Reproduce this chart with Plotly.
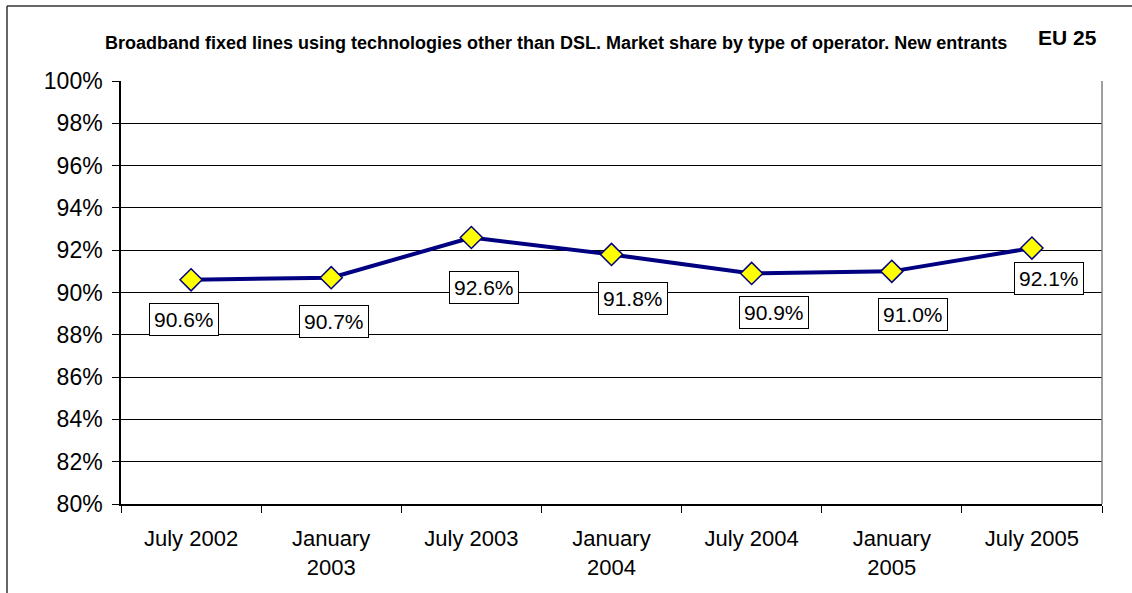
import plotly.graph_objects as go

# ---- data ----
categories = ["July 2002", "January<br>2003", "July 2003", "January<br>2004",
              "July 2004", "January<br>2005", "July 2005"]
new_entrants_share = [90.6, 90.7, 92.6, 91.8, 90.9, 91.0, 92.1]
value_labels = ["90.6%", "90.7%", "92.6%", "91.8%", "90.9%", "91.0%", "92.1%"]
y_ticks = [80, 82, 84, 86, 88, 90, 92, 94, 96, 98, 100]
y_tick_labels = ["80%", "82%", "84%", "86%", "88%", "90%", "92%", "94%", "96%", "98%", "100%"]

title_text = ("Broadband fixed lines using technologies other than DSL. "
              "Market share by type of operator. New entrants")
region_text = "EU 25"

# ---- label styling offsets (pixels) ----
label_xshift = [-7, 3, 13, 21, 22, 21, 17]
label_yshift = [-40, -44, -50, -44, -39, -43, -30]

W, H = 1132, 593
L, R, T, B = 121, 30, 81, 89
pw, ph = W - L - R, H - T - B

def px_x(p):
    return (p - L) / pw

def px_y(p):
    return (H - B - p) / ph

FONT = "Arial, Liberation Sans, sans-serif"

fig = go.Figure()
fig.add_trace(go.Scatter(
    x=categories, y=new_entrants_share, mode="lines+markers",
    line=dict(color="#000080", width=4),
    marker=dict(symbol="diamond", size=17, color="#FFFF00",
                line=dict(color="#000080", width=1.5)),
    hoverinfo="x+y", showlegend=False,
))

annotations = []
for c, v, t, dx, dy in zip(categories, new_entrants_share, value_labels,
                            label_xshift, label_yshift):
    annotations.append(dict(
        x=c, y=v, text=t, showarrow=False, xshift=dx, yshift=dy,
        font=dict(family=FONT, size=21, color="black"),
        bgcolor="white", bordercolor="black", borderwidth=1, borderpad=4,
    ))

annotations.append(dict(
    xref="paper", yref="paper", x=px_x(556), y=px_y(43), text="<b>" + title_text + "</b>",
    showarrow=False, xanchor="center", yanchor="middle",
    font=dict(family=FONT, size=18, color="black"),
))
annotations.append(dict(
    xref="paper", yref="paper", x=px_x(1067), y=px_y(38), text="<b>" + region_text + "</b>",
    showarrow=False, xanchor="center", yanchor="middle",
    font=dict(family=FONT, size=21, color="black"),
))

shapes = [
    # outer chart frame (left and top edges visible)
    dict(type="line", xref="paper", yref="paper", x0=px_x(7), x1=px_x(7),
         y0=px_y(593), y1=px_y(6), line=dict(color="#333333", width=1.5)),
    dict(type="line", xref="paper", yref="paper", x0=px_x(7), x1=px_x(1132),
         y0=px_y(6), y1=px_y(6), line=dict(color="#333333", width=1.5)),
    # right plot-area border
    dict(type="line", xref="paper", yref="paper", x0=1, x1=1,
         y0=0, y1=1, line=dict(color="#808080", width=1.5)),
]

fig.update_layout(
    width=W, height=H,
    margin=dict(l=L, r=R, t=T, b=B, pad=0),
    paper_bgcolor="white", plot_bgcolor="white",
    font=dict(family=FONT, size=23, color="black"),
    annotations=annotations, shapes=shapes,
    xaxis=dict(
        type="category", range=[-0.5, 6.5], tickson="boundaries",
        showgrid=False, showline=True, linecolor="black", linewidth=1.5,
        ticks="outside", ticklen=7, tickcolor="black", tickwidth=1,
        tickfont=dict(family=FONT, size=22, color="black"),
        ticklabelstandoff=14,
    ),
    yaxis=dict(
        range=[80, 100], tickmode="array", tickvals=y_ticks, ticktext=y_tick_labels,
        showgrid=True, gridcolor="black", gridwidth=1,
        showline=True, linecolor="black", linewidth=1.5,
        ticks="outside", ticklen=7, tickcolor="black", tickwidth=1,
        tickfont=dict(family=FONT, size=23, color="black"),
        ticklabelstandoff=5, zeroline=False,
    ),
)

fig.write_html("out.html", config={"displayModeBar": False},
               post_script="document.body.style.margin='0';document.body.style.padding='0';")
